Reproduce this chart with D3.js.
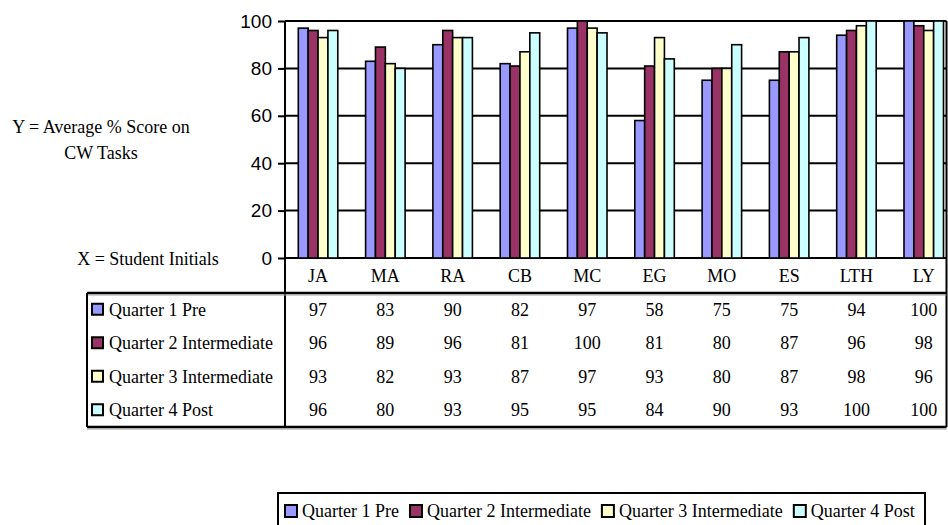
<!DOCTYPE html>
<html>
<head>
<meta charset="utf-8">
<script src="https://cdn.jsdelivr.net/npm/d3@7/dist/d3.min.js"></script>
<style>
  html, body { margin: 0; padding: 0; background: #fff; }
  svg { display: block; }
</style>
</head>
<body>
<svg id="chart" width="948" height="525"></svg>
<script>
// Student initials (x categories)
const categories = ["JA", "MA", "RA", "CB", "MC", "EG", "MO", "ES", "LTH", "LY"];

// Series names
const seriesNames = ["Quarter 1 Pre", "Quarter 2 Intermediate", "Quarter 3 Intermediate", "Quarter 4 Post"];

// Average % score on CW tasks, one array per quarter
const q1Pre = [97, 83, 90, 82, 97, 58, 75, 75, 94, 100];
const q2Intermediate = [96, 89, 96, 81, 100, 81, 80, 87, 96, 98];
const q3Intermediate = [93, 82, 93, 87, 97, 93, 80, 87, 98, 96];
const q4Post = [96, 80, 93, 95, 95, 84, 90, 93, 100, 100];

// Y axis tick values
const yTicks = [0, 20, 40, 60, 80, 100];

const seriesValues = [q1Pre, q2Intermediate, q3Intermediate, q4Post];
const seriesColors = ["#9999FF", "#993366", "#FFFFCC", "#CCFFFF"];

const SERIF = '"Liberation Serif", "Times New Roman", Times, serif';
const SANS = '"Liberation Sans", Arial, Helvetica, sans-serif';

const svg = d3.select("#chart");

// Layout
const plotLeft = 285, plotTop = 21, plotBottom = 258, frameRight = 946.5;
const bandStart = 284.4, bandEnd = 957.4;
const tableTop = 293, tableBottom = 427, tableLeft = 87;
const rowH = (tableBottom - tableTop) / 4;

const x = d3.scaleBand()
  .domain(categories)
  .range([bandStart, bandEnd])
  .paddingInner(0.413)
  .paddingOuter(0.2065);

const xs = d3.scaleBand()
  .domain(seriesNames)
  .range([0, x.bandwidth()]);

const y = d3.scaleLinear().domain([0, 100]).range([plotBottom, plotTop]);

// Horizontal gridlines
svg.append("g")
  .selectAll("line")
  .data(yTicks)
  .join("line")
  .attr("x1", plotLeft).attr("x2", frameRight)
  .attr("y1", d => y(d)).attr("y2", d => y(d))
  .attr("stroke", "#000").attr("stroke-width", 2);

// Bars
const groups = svg.append("g")
  .selectAll("g")
  .data(categories)
  .join("g")
  .attr("transform", d => `translate(${x(d)},0)`);

groups.selectAll("rect")
  .data((c, i) => seriesNames.map((s, k) => ({ s, k, v: seriesValues[k][i] })))
  .join("rect")
  .attr("x", d => xs(d.s))
  .attr("width", xs.bandwidth())
  .attr("y", d => y(d.v))
  .attr("height", d => y(0) - y(d.v))
  .attr("fill", d => seriesColors[d.k])
  .attr("stroke", "#000")
  .attr("stroke-width", 1.6);

// Y axis
const yAxis = d3.axisLeft(y).tickValues(yTicks).tickSize(7).tickPadding(6);
const gy = svg.append("g")
  .attr("transform", `translate(${plotLeft},0)`)
  .call(yAxis);
gy.select(".domain").remove();
gy.selectAll(".tick line").attr("stroke", "#000").attr("stroke-width", 2);
gy.selectAll(".tick text")
  .style("font-family", SANS)
  .style("font-size", "19px")
  .attr("fill", "#000");

// Frame lines: left axis (down through the table), right edge
svg.append("line")
  .attr("x1", plotLeft).attr("x2", plotLeft)
  .attr("y1", plotTop).attr("y2", tableBottom)
  .attr("stroke", "#000").attr("stroke-width", 2);
svg.append("line")
  .attr("x1", frameRight).attr("x2", frameRight)
  .attr("y1", plotTop).attr("y2", tableBottom)
  .attr("stroke", "#000").attr("stroke-width", 2);

// Table horizontal rules with a faint shadow
[tableTop, tableBottom].forEach(yy => {
  svg.append("line")
    .attr("x1", tableLeft).attr("x2", frameRight)
    .attr("y1", yy).attr("y2", yy)
    .attr("stroke", "#000").attr("stroke-width", 2.4);
  svg.append("line")
    .attr("x1", tableLeft).attr("x2", frameRight)
    .attr("y1", yy + 2).attr("y2", yy + 2)
    .attr("stroke", "#999").attr("stroke-width", 1);
});
svg.append("line")
  .attr("x1", tableLeft).attr("x2", tableLeft)
  .attr("y1", tableTop).attr("y2", tableBottom)
  .attr("stroke", "#000").attr("stroke-width", 2);

// Helper for serif text
function serifText(sel) {
  return sel.style("font-family", SERIF).style("font-size", "18px").attr("fill", "#000");
}

// Category labels (header row)
svg.append("g")
  .selectAll("text")
  .data(categories)
  .join("text")
  .call(serifText)
  .attr("text-anchor", "middle")
  .attr("x", d => x(d) + x.bandwidth() / 2)
  .attr("y", 282)
  .text(d => d);

// Data table rows
const rows = svg.append("g")
  .selectAll("g")
  .data(seriesNames)
  .join("g")
  .attr("transform", (d, k) => `translate(0,${tableTop + rowH * k + rowH / 2})`);

rows.append("rect")
  .attr("x", 92).attr("y", -6)
  .attr("width", 11).attr("height", 11)
  .attr("fill", (d, k) => seriesColors[k])
  .attr("stroke", "#000").attr("stroke-width", 2);

rows.append("text")
  .call(serifText)
  .attr("x", 109).attr("y", 6)
  .text(d => d);

rows.each(function (s, k) {
  d3.select(this).selectAll("text.val")
    .data(seriesValues[k])
    .join("text")
    .attr("class", "val")
    .call(serifText)
    .attr("text-anchor", "middle")
    .attr("x", (v, i) => x(categories[i]) + x.bandwidth() / 2)
    .attr("y", 6)
    .text(v => v);
});

// Axis descriptions on the left
const desc = svg.append("g");
desc.append("text").call(serifText).attr("x", 101).attr("y", 133).attr("text-anchor", "middle")
  .text("Y = Average % Score on");
desc.append("text").call(serifText).attr("x", 101).attr("y", 159).attr("text-anchor", "middle")
  .text("CW Tasks");
desc.append("text").call(serifText).attr("x", 148).attr("y", 265).attr("text-anchor", "middle")
  .text("X = Student Initials");

// Bottom legend
const legendTop = 493, legendLeft = 278, legendRight = 925;
const legend = svg.append("g");
legend.append("rect")
  .attr("x", legendLeft).attr("y", legendTop)
  .attr("width", legendRight - legendLeft).attr("height", 40)
  .attr("fill", "#fff").attr("stroke", "#000").attr("stroke-width", 2);

let lx = 285;
seriesNames.forEach((s, k) => {
  legend.append("rect")
    .attr("x", lx).attr("y", 505)
    .attr("width", 12).attr("height", 12)
    .attr("fill", seriesColors[k])
    .attr("stroke", "#000").attr("stroke-width", 2);
  const t = legend.append("text")
    .call(serifText)
    .attr("x", lx + 17).attr("y", 517)
    .text(s);
  lx += 17 + t.node().getComputedTextLength() + 11;
});
</script>
</body>
</html>
